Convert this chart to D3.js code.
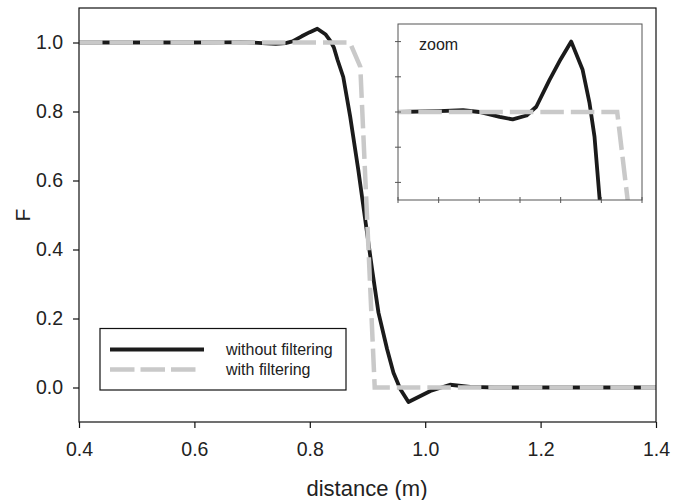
<!DOCTYPE html>
<html><head><meta charset="utf-8">
<script src="https://cdn.jsdelivr.net/npm/d3@7"></script>
<style>
body{margin:0;background:#fff;}
svg text{font-family:"Liberation Sans",Arial,Helvetica,sans-serif;fill:#222;}
</style></head>
<body><svg id="c" width="673" height="500"></svg>
<script>
// ---- data ----
const distWithout = [0.40,0.50,0.60,0.65,0.68,0.70,0.725,0.741,0.758,0.770,0.786,0.800,0.813,0.827,0.8355,0.8416,0.848,0.858,0.870,0.884,0.896,0.908,0.919,0.934,0.945,0.957,0.971,1.009,1.043,1.078,1.12,1.40];
const fWithout    = [1.000,1.000,1.000,1.0005,1.001,1.000,0.9972,0.9958,0.998,1.003,1.018,1.030,1.040,1.024,1.005,0.986,0.950,0.900,0.785,0.631,0.487,0.342,0.217,0.111,0.043,-0.005,-0.042,-0.010,0.008,0.002,0.000,0.000];
const distWith    = [0.40,0.8695,0.8875,0.9125,1.40];
const fWith       = [1.000,1.000,0.930,0.000,0.000];
const xTicks      = [0.4,0.6,0.8,1.0,1.2,1.4];
const yTicks      = [0.0,0.2,0.4,0.6,0.8,1.0];
const insetXTicks = [0.6,0.65,0.7,0.75,0.8,0.85,0.9];
const insetYTicks = [0.96,0.98,1.00,1.02,1.04];
const seriesNames = ["without filtering","with filtering"];

const svg = d3.select("#c");
const BLACK="#1b1b1b", GRAY="#c9c9c9";
const x = d3.scaleLinear().domain([0.4,1.4]).range([79,656]);
const y = d3.scaleLinear().domain([-0.1,1.1]).range([422,8]);

const without = distWithout.map((d,i)=>[d,fWithout[i]]);
const withF = distWith.map((d,i)=>[d,fWith[i]]);

svg.append("defs").append("clipPath").attr("id","mainclip").append("rect")
  .attr("x",79).attr("y",8).attr("width",577).attr("height",414);

const line = d3.line().x(d=>x(d[0])).y(d=>y(d[1]));
const g = svg.append("g").attr("clip-path","url(#mainclip)");
g.append("path").datum(without).attr("d",line).attr("fill","none")
  .attr("stroke",BLACK).attr("stroke-width",3.8).attr("stroke-linejoin","round");
g.append("path").datum(withF).attr("d",line).attr("fill","none")
  .attr("stroke",GRAY).attr("stroke-width",4.5).attr("stroke-dasharray","23.5,7");

// frame
svg.append("rect").attr("x",79).attr("y",8).attr("width",577).attr("height",414)
  .attr("fill","none").attr("stroke","#111").attr("stroke-width",1.2);

// axes
const xa = svg.append("g").attr("transform","translate(0,422)")
  .call(d3.axisBottom(x).tickValues(xTicks).tickFormat(d3.format(".1f")).tickSize(6).tickPadding(14));
const ya = svg.append("g").attr("transform","translate(79,0)")
  .call(d3.axisLeft(y).tickValues(yTicks).tickFormat(d3.format(".1f")).tickSize(6).tickPadding(10));
[xa,ya].forEach(a=>{
  a.select(".domain").remove();
  a.selectAll("line").attr("stroke","#111").attr("stroke-width",1.2);
  a.selectAll("text").attr("font-size",19.5).attr("fill","#222")
   .style("font-family","'Liberation Sans',Arial,sans-serif");
});

svg.append("text").attr("x",367).attr("y",496).attr("text-anchor","middle")
  .attr("font-size",22).text("distance (m)");
svg.append("text").attr("transform","translate(30,215) rotate(-90)")
  .attr("text-anchor","middle").attr("font-size",21).text("F");

// legend
const lg = svg.append("g");
lg.append("rect").attr("x",100).attr("y",328.5).attr("width",246).attr("height",61.5)
  .attr("fill","#fff").attr("stroke","#111").attr("stroke-width",1.2);
lg.append("line").attr("x1",110).attr("x2",204).attr("y1",349.5).attr("y2",349.5)
  .attr("stroke",BLACK).attr("stroke-width",3.8);
lg.append("line").attr("x1",110).attr("x2",196).attr("y1",369.5).attr("y2",369.5)
  .attr("stroke",GRAY).attr("stroke-width",4.5).attr("stroke-dasharray","24.5,6");
lg.selectAll("text.lab").data(seriesNames).join("text").attr("class","lab")
  .attr("x",226).attr("y",(d,i)=>355+i*20).attr("font-size",16).text(d=>d);

// inset
const ix = d3.scaleLinear().domain([0.6,0.9]).range([398,642]);
const iy = d3.scaleLinear().domain([0.95,1.05]).range([200,24]);
const ig = svg.append("g");
ig.append("rect").attr("x",398).attr("y",24).attr("width",244).attr("height",176)
  .attr("fill","#fff");
svg.select("defs").append("clipPath").attr("id","insetclip").append("rect")
  .attr("x",398).attr("y",24).attr("width",244).attr("height",176);
const iline = d3.line().x(d=>ix(d[0])).y(d=>iy(d[1]));
const ic = ig.append("g").attr("clip-path","url(#insetclip)");
ic.append("path").datum(without).attr("d",iline).attr("fill","none")
  .attr("stroke",BLACK).attr("stroke-width",3.8).attr("stroke-linejoin","round");
ic.append("path").datum(withF).attr("d",iline).attr("fill","none")
  .attr("stroke",GRAY).attr("stroke-width",4.5).attr("stroke-dasharray","23.5,7");
ig.append("rect").attr("x",398).attr("y",24).attr("width",244).attr("height",176)
  .attr("fill","none").attr("stroke","#555").attr("stroke-width",1);
ig.selectAll("line.xt").data(insetXTicks).join("line").attr("class","xt")
  .attr("x1",d=>ix(d)).attr("x2",d=>ix(d)).attr("y1",197).attr("y2",203)
  .attr("stroke","#555").attr("stroke-width",1);
ig.selectAll("line.yt").data(insetYTicks).join("line").attr("class","yt")
  .attr("y1",d=>iy(d)).attr("y2",d=>iy(d)).attr("x1",395).attr("x2",401)
  .attr("stroke","#555").attr("stroke-width",1);
ig.append("text").attr("x",419).attr("y",50).attr("font-size",16).text("zoom");
</script></body></html>
